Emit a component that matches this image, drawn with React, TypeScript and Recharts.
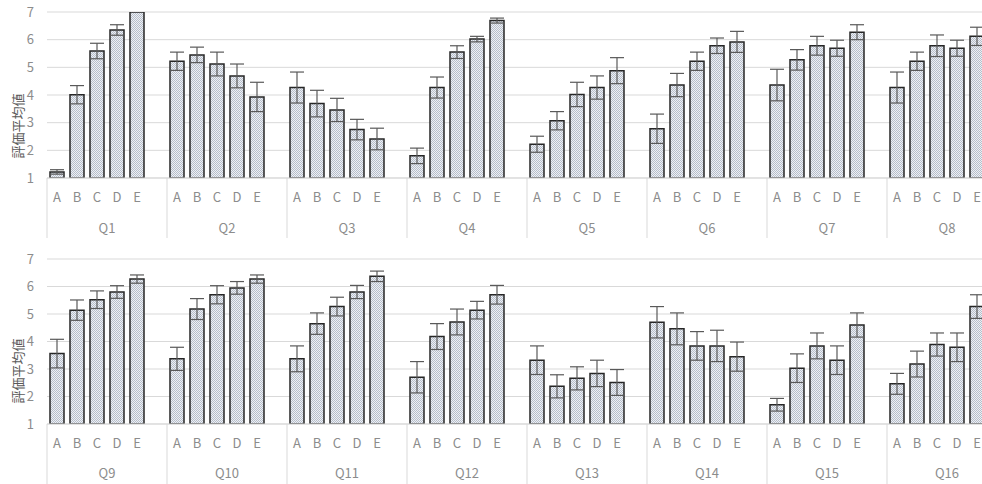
import { BarChart, Bar, XAxis, YAxis, CartesianGrid, ErrorBar } from 'recharts';

const LETTERS = ['A', 'B', 'C', 'D', 'E'];
const TOP_GROUPS = ['Q1', 'Q2', 'Q3', 'Q4', 'Q5', 'Q6', 'Q7', 'Q8'];
const BOTTOM_GROUPS = ['Q9', 'Q10', 'Q11', 'Q12', 'Q13', 'Q14', 'Q15', 'Q16'];
const Y_TICKS = [1, 2, 3, 4, 5, 6, 7];

// mean ratings, one row per question, A..E
const TOP_MEANS = [
  [1.22, 4.01, 5.59, 6.35, 7.0],
  [5.22, 5.45, 5.12, 4.69, 3.93],
  [4.27, 3.69, 3.46, 2.75, 2.41],
  [1.8, 4.27, 5.55, 6.02, 6.69],
  [2.22, 3.07, 4.02, 4.27, 4.88],
  [2.78, 4.36, 5.22, 5.78, 5.92],
  [4.36, 5.27, 5.78, 5.69, 6.27],
  [4.27, 5.22, 5.78, 5.69, 6.12],
];
const TOP_ERRORS = [
  [0.08, 0.33, 0.28, 0.19, 0],
  [0.33, 0.28, 0.43, 0.43, 0.53],
  [0.56, 0.48, 0.42, 0.37, 0.39],
  [0.28, 0.38, 0.23, 0.1, 0.09],
  [0.29, 0.33, 0.44, 0.42, 0.47],
  [0.53, 0.42, 0.33, 0.28, 0.38],
  [0.57, 0.37, 0.34, 0.29, 0.27],
  [0.56, 0.33, 0.39, 0.29, 0.33],
];
const BOTTOM_MEANS = [
  [3.56, 5.14, 5.52, 5.8, 6.27],
  [3.37, 5.18, 5.7, 5.95, 6.27],
  [3.37, 4.65, 5.27, 5.8, 6.37],
  [2.7, 4.18, 4.71, 5.14, 5.7],
  [3.32, 2.37, 2.66, 2.84, 2.51],
  [4.7, 4.46, 3.84, 3.84, 3.45],
  [1.7, 3.03, 3.84, 3.32, 4.6],
  [2.46, 3.18, 3.89, 3.79, 5.27],
];
const BOTTOM_ERRORS = [
  [0.52, 0.37, 0.32, 0.23, 0.15],
  [0.42, 0.38, 0.33, 0.23, 0.15],
  [0.47, 0.39, 0.34, 0.24, 0.19],
  [0.57, 0.47, 0.47, 0.32, 0.34],
  [0.52, 0.42, 0.42, 0.48, 0.47],
  [0.57, 0.58, 0.52, 0.57, 0.53],
  [0.23, 0.52, 0.47, 0.52, 0.44],
  [0.38, 0.47, 0.42, 0.52, 0.43],
];

const SLOTS = LETTERS.length + 1; // 5 bars + 1 empty slot per question
const FONT = '"Noto Sans CJK JP", "Noto Sans", sans-serif';
const GREY = '#8c8c8c';

function buildRows(groups: string[], means: number[][], errs: number[][]) {
  const rows: Record<string, unknown>[] = [];
  groups.forEach((g, gi) => {
    LETTERS.forEach((l, li) => {
      rows.push({ id: `${g}-${l}`, letter: l, group: g, mean: means[gi][li], err: errs[gi][li] });
    });
    rows.push({ id: `${g}-gap`, letter: '', group: g });
  });
  return rows;
}

function LetterTick(props: any) {
  const { x, y, payload } = props;
  return (
    <text x={x} y={y + 19} dy="0.35em" textAnchor="middle" fill={GREY} fontSize={13} fontFamily={FONT}>
      {payload.value}
    </text>
  );
}

function GroupTick(props: any) {
  const { x, y, payload, names, dyLabel } = props;
  const idx = Math.round((payload.value - SLOTS / 2) / SLOTS);
  return (
    <text x={x} y={y + dyLabel} dy="0.35em" textAnchor="middle" fill={GREY} fontSize={13} fontFamily={FONT}>
      {names[idx]}
    </text>
  );
}

function SepTick(props: any) {
  const { x, y } = props;
  return <line x1={x} x2={x} y1={y - 60} y2={y} stroke="#d9d9d9" strokeWidth={1} />;
}

function YTitle({ cy }: { cy: number }) {
  return (
    <text x={17} y={cy} transform={`rotate(-90 17 ${cy})`} textAnchor="middle" dominantBaseline="central"
      fill="#595959" fontSize={13} fontFamily={FONT}>
      評価平均値
    </text>
  );
}

interface PanelProps {
  groups: string[];
  means: number[][];
  errs: number[][];
  height: number;
  top: number;
  titleY: number;
  dyLabel: number;
  pid: string;
}

function Panel({ groups, means, errs, height, top, titleY, dyLabel, pid }: PanelProps) {
  const rows = buildRows(groups, means, errs);
  const total = groups.length * SLOTS;
  const centers = groups.map((_, i) => i * SLOTS + SLOTS / 2);
  const bounds = groups.map((_, i) => i * SLOTS);
  return (
    <BarChart width={1010} height={height} data={rows} barCategoryGap={3}
      margin={{ top, right: 3, left: 0, bottom: 0 }}>
      <defs>
        <pattern id={pid} width={2} height={2} patternUnits="userSpaceOnUse">
          <rect width={2} height={2} fill="#eef0f4" />
          <rect width={1} height={1} fill="#b6becb" />
          <rect x={1} y={1} width={1} height={1} fill="#b6becb" />
        </pattern>
      </defs>
      <CartesianGrid vertical={false} stroke="#d9d9d9" />
      <YAxis domain={[1, 7]} ticks={Y_TICKS} allowDataOverflow width={47} axisLine={false} tickLine={false}
        tickSize={0} tickMargin={13} tick={{ fill: GREY, fontSize: 13, fontFamily: FONT }}
        label={<YTitle cy={titleY} />} />
      <XAxis dataKey="id" height={30} tickLine={false} tickSize={0} tickMargin={0} interval={0}
        axisLine={{ stroke: '#d9d9d9' }}
        tick={(p: any) => <LetterTick {...p} payload={{ ...p.payload, value: rows[p.index]?.letter ?? '' }} />} />
      <XAxis xAxisId="grp" type="number" dataKey="slot" domain={[0, total]} ticks={centers} allowDataOverflow
        height={30} axisLine={false} tickLine={false} tickSize={0} tickMargin={0} interval={0}
        tick={(p: any) => <GroupTick {...p} names={groups} dyLabel={dyLabel} />} />
      <XAxis xAxisId="sep" type="number" dataKey="slot" domain={[0, total]} ticks={bounds} allowDataOverflow
        height={2} axisLine={false} tickLine={false} tickSize={0} tickMargin={0} interval={0}
        tick={(p: any) => <SepTick {...p} />} />
      <Bar dataKey="mean" fill={`url(#${pid})`} stroke="#262626" strokeWidth={1.5} isAnimationActive={false}>
        <ErrorBar dataKey="err" width={7} stroke="#595959" strokeWidth={1.2} isAnimationActive={false} />
      </Bar>
    </BarChart>
  );
}

export default function App() {
  return (
    <div style={{ position: 'fixed', left: 0, top: 0, width: 982, height: 484, overflow: 'hidden', background: '#fff' }}>
      <Panel groups={TOP_GROUPS} means={TOP_MEANS} errs={TOP_ERRORS} height={240} top={12}
        titleY={126} dyLabel={20} pid="hatchTop" />
      <div style={{ position: 'absolute', left: 0, top: 240 }}>
        <Panel groups={BOTTOM_GROUPS} means={BOTTOM_MEANS} errs={BOTTOM_ERRORS} height={246} top={19}
          titleY={131} dyLabel={19} pid="hatchBottom" />
      </div>
    </div>
  );
}
